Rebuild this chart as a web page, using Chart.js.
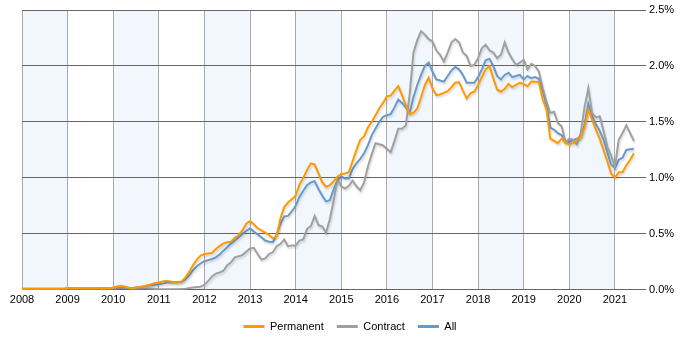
<!DOCTYPE html>
<html>
<head>
<meta charset="utf-8">
<script src="https://cdn.jsdelivr.net/npm/chart.js@4/dist/chart.umd.min.js"></script>
<style>
  html, body { margin: 0; padding: 0; background: #fff; }
  #wrap { width: 700px; height: 350px; }
</style>
</head>
<body>
<div id="wrap"><canvas id="trendChart" width="700" height="350"></canvas></div>
<script>
// Monatswerte ab Januar 2008 (Anteil in %)
const startYear = 2008;
const yearTicks = [2008, 2009, 2010, 2011, 2012, 2013, 2014, 2015, 2016, 2017, 2018, 2019, 2020, 2021];
const yTicks = [0, 0.5, 1.0, 1.5, 2.0, 2.5];

const permanent = [
  0.01, 0.01, 0.01, 0.01, 0.01, 0.01, 0.01, 0.01, 0.01, 0.01, 0.01, 0.01,
  0.015, 0.015, 0.015, 0.015, 0.015, 0.015, 0.015, 0.015, 0.015, 0.015, 0.015, 0.015,
  0.02, 0.03, 0.035, 0.03, 0.02, 0.015, 0.02, 0.025, 0.03, 0.04, 0.05, 0.06,
  0.065, 0.075, 0.08, 0.075, 0.07, 0.07, 0.075, 0.11, 0.16, 0.22, 0.27, 0.305,
  0.32, 0.325, 0.33, 0.365, 0.39, 0.415, 0.425, 0.43, 0.465, 0.49, 0.53, 0.59,
  0.615, 0.585, 0.55, 0.53, 0.51, 0.49, 0.46, 0.48, 0.64, 0.74, 0.78, 0.81,
  0.84, 0.94, 1.0, 1.07, 1.13, 1.12, 1.04, 0.96, 0.92, 0.935, 0.97, 1.01,
  1.035, 1.04, 1.05, 1.15, 1.25, 1.34, 1.37, 1.45, 1.50, 1.56, 1.62, 1.67,
  1.73, 1.735, 1.78, 1.82, 1.74, 1.65, 1.575, 1.58, 1.62, 1.72, 1.83, 1.895,
  1.80, 1.74, 1.745, 1.76, 1.775, 1.81, 1.85, 1.855, 1.78, 1.71, 1.755, 1.77,
  1.83, 1.90, 1.97, 2.0, 1.89, 1.79, 1.77, 1.795, 1.84, 1.81, 1.83, 1.85,
  1.84, 1.82, 1.86, 1.86, 1.855, 1.70, 1.61, 1.35, 1.33, 1.31, 1.35, 1.31,
  1.30, 1.31, 1.345, 1.36, 1.45, 1.61, 1.52, 1.43, 1.35, 1.25, 1.15, 1.04,
  1.0, 1.05, 1.05, 1.11, 1.16, 1.22
];

const contract = [
  0.003, 0.003, 0.003, 0.003, 0.003, 0.003, 0.003, 0.003, 0.003, 0.003, 0.003, 0.003,
  0.005, 0.005, 0.005, 0.005, 0.005, 0.005, 0.005, 0.005, 0.005, 0.005, 0.005, 0.005,
  0.008, 0.012, 0.015, 0.012, 0.01, 0.008, 0.008, 0.01, 0.012, 0.012, 0.01, 0.008,
  0.005, 0.005, 0.004, 0.004, 0.005, 0.006, 0.008, 0.01, 0.015, 0.02, 0.025, 0.028,
  0.045, 0.08, 0.12, 0.145, 0.155, 0.17, 0.22, 0.245, 0.29, 0.30, 0.31, 0.34,
  0.37, 0.375, 0.32, 0.27, 0.28, 0.32, 0.335, 0.39, 0.41, 0.45, 0.39, 0.395,
  0.395, 0.44, 0.45, 0.545, 0.57, 0.66, 0.58, 0.565, 0.51, 0.63, 0.8, 0.99,
  0.925, 0.905, 0.93, 0.975, 0.925, 0.89, 0.96, 1.10, 1.21, 1.31, 1.30, 1.29,
  1.26, 1.23, 1.33, 1.44, 1.44, 1.47, 1.75, 2.12, 2.23, 2.31, 2.28, 2.24,
  2.22, 2.14, 2.1, 2.04, 2.12, 2.21, 2.24, 2.21, 2.12, 2.09, 2.0, 2.01,
  2.07, 2.16, 2.19, 2.14, 2.12, 2.07, 2.1, 2.21, 2.12, 2.06, 2.01, 2.03,
  2.055, 1.97, 2.02, 2.0, 1.95, 1.80, 1.68, 1.58, 1.59, 1.49, 1.46, 1.32,
  1.35, 1.34, 1.30, 1.40, 1.63, 1.80, 1.58, 1.54, 1.55, 1.42, 1.28, 1.20,
  1.10, 1.34, 1.40, 1.47, 1.40, 1.33
];

const all = [
  0.01, 0.01, 0.01, 0.01, 0.01, 0.01, 0.01, 0.01, 0.01, 0.01, 0.01, 0.01,
  0.012, 0.012, 0.012, 0.012, 0.012, 0.012, 0.012, 0.012, 0.012, 0.012, 0.012, 0.012,
  0.015, 0.02, 0.025, 0.02, 0.015, 0.015, 0.02, 0.025, 0.03, 0.035, 0.04, 0.045,
  0.05, 0.055, 0.065, 0.065, 0.065, 0.065, 0.07, 0.095, 0.13, 0.175, 0.21, 0.235,
  0.255, 0.265, 0.275, 0.29, 0.315, 0.35, 0.38, 0.415, 0.44, 0.47, 0.5, 0.525,
  0.55, 0.52, 0.495, 0.47, 0.44, 0.43, 0.425, 0.49, 0.59, 0.655, 0.66, 0.70,
  0.75, 0.83, 0.885, 0.935, 0.96, 0.97, 0.9, 0.84, 0.79, 0.80, 0.9, 0.975,
  1.01, 0.995, 0.995, 1.08, 1.13, 1.17, 1.22, 1.29, 1.38, 1.44, 1.50, 1.545,
  1.56, 1.57, 1.63, 1.70, 1.67, 1.63, 1.58, 1.72, 1.83, 1.92, 2.0, 2.03,
  1.95, 1.88, 1.87, 1.86, 1.91, 1.96, 1.99, 1.97, 1.92, 1.85, 1.85, 1.85,
  1.90, 1.97, 2.05, 2.065, 2.0, 1.91, 1.88, 1.92, 1.94, 1.90, 1.91, 1.92,
  1.88, 1.91, 1.89, 1.90, 1.885, 1.78, 1.65, 1.45, 1.43, 1.40, 1.38, 1.33,
  1.32, 1.34, 1.35, 1.37, 1.47, 1.66, 1.55, 1.48, 1.42, 1.34, 1.23, 1.12,
  1.09, 1.16, 1.18, 1.25, 1.255, 1.26
];

const months = permanent.map((_, i) => startYear + i / 12);
const toPoints = arr => arr.map((v, i) => ({ x: months[i], y: v }));

// Hellblaue Streifen für jedes zweite Jahr
const yearBands = {
  id: 'yearBands',
  beforeDraw(chart) {
    const { ctx, chartArea, scales } = chart;
    ctx.save();
    ctx.fillStyle = '#f2f7fe';
    for (let y = startYear; y < 2022; y += 2) {
      const x1 = scales.x.getPixelForValue(y);
      const x2 = Math.min(scales.x.getPixelForValue(y + 1), chartArea.right);
      ctx.fillRect(x1, chartArea.top, x2 - x1, chartArea.bottom - chartArea.top);
    }
    ctx.restore();
  }
};

// leichter Schatten unter den Linien
const lineShadow = {
  id: 'lineShadow',
  beforeDatasetDraw(chart) {
    const ctx = chart.ctx;
    ctx.save();
    ctx.shadowColor = 'rgba(0, 0, 0, 0.15)';
    ctx.shadowBlur = 2;
    ctx.shadowOffsetX = 1;
    ctx.shadowOffsetY = 2;
  },
  afterDatasetDraw(chart) {
    chart.ctx.restore();
  }
};

const font = { family: 'Arial, "Liberation Sans", sans-serif', size: 11 };

new Chart(document.getElementById('trendChart').getContext('2d'), {
  type: 'line',
  data: {
    datasets: [
      { label: 'Permanent', data: toPoints(permanent), borderColor: '#ff9900', backgroundColor: '#ff9900' },
      { label: 'Contract', data: toPoints(contract), borderColor: '#a0a0a0', backgroundColor: '#a0a0a0' },
      { label: 'All', data: toPoints(all), borderColor: '#6699cc', backgroundColor: '#6699cc' }
    ]
  },
  options: {
    responsive: false,
    animation: false,
    devicePixelRatio: 1,
    layout: { padding: { left: 0, top: 10, right: 0, bottom: 8 } },
    elements: {
      line: { borderWidth: 2, tension: 0 },
      point: { radius: 0 }
    },
    scales: {
      x: {
        type: 'linear',
        min: 2008,
        max: 2021.55,
        afterBuildTicks: scale => { scale.ticks = yearTicks.map(v => ({ value: v })); },
        afterFit: scale => { scale.height -= 3; },
        ticks: { color: '#000', font, padding: 4, maxRotation: 0, callback: v => String(v) },
        grid: { color: '#aaaaaa', drawTicks: false },
        border: { display: false }
      },
      y: {
        position: 'right',
        min: 0,
        max: 2.5,
        afterBuildTicks: scale => { scale.ticks = yTicks.map(v => ({ value: v })); },
        afterFit: scale => { scale.width = 60; },
        ticks: { color: '#000', font, padding: 3, callback: v => v.toFixed(1) + '%' },
        grid: { color: '#666666', tickLength: 6, tickColor: '#666666' },
        border: { display: false }
      },
      // leere Achse links, nur als Abstand
      yLeft: {
        position: 'left',
        display: true,
        afterFit: scale => { scale.width = 22; },
        ticks: { display: false },
        grid: { display: false },
        border: { display: false }
      }
    },
    plugins: {
      tooltip: { enabled: false },
      legend: {
        position: 'bottom',
        labels: {
          font,
          color: '#000',
          boxWidth: 21,
          boxHeight: 3,
          padding: 13,
          generateLabels: chart =>
            Chart.defaults.plugins.legend.labels.generateLabels(chart).map(l => ({ ...l, lineWidth: 0 }))
        }
      }
    }
  },
  plugins: [yearBands, lineShadow]
});
</script>
</body>
</html>
